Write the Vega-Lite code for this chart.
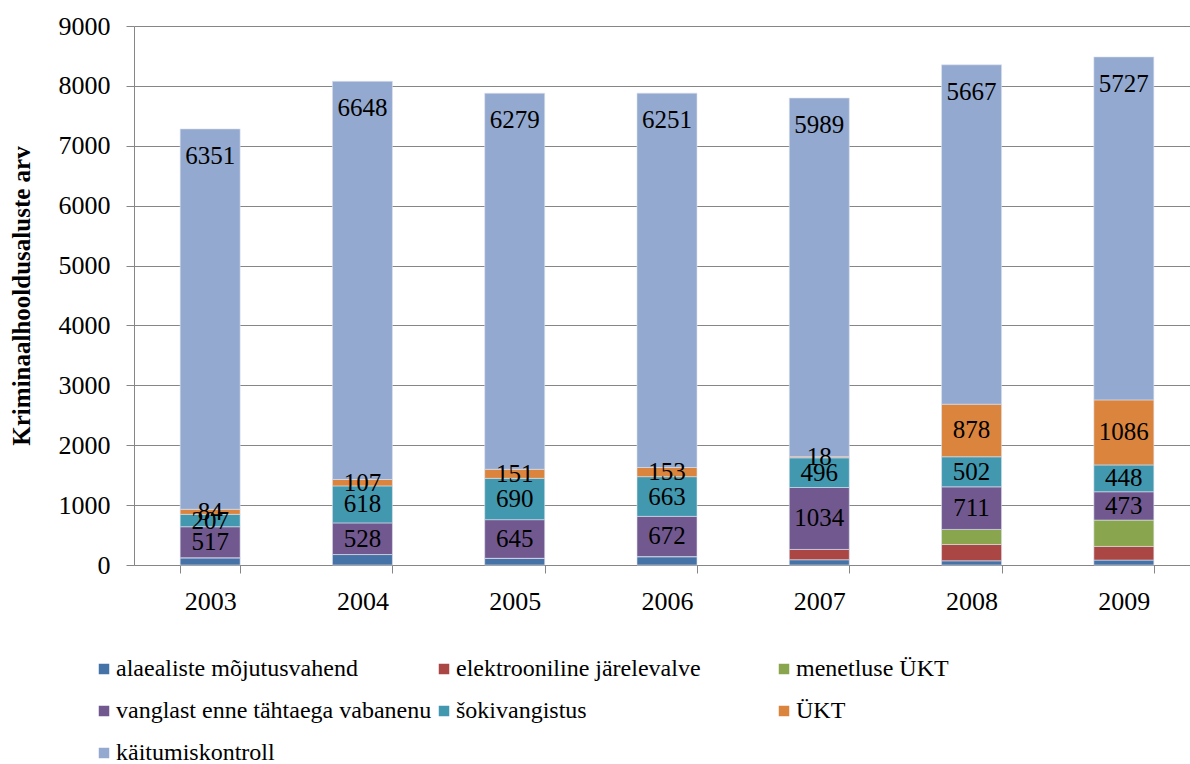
{
  "$schema": "https://vega.github.io/schema/vega-lite/v6.json",
  "autosize": "none",
  "width": 1056,
  "height": 539,
  "padding": {"left": 134, "top": 26, "right": 0, "bottom": 199},
  "background": "white",
  "config": {
    "font": "Liberation Serif",
    "view": {"stroke": null}
  },
  "data": {
    "values": [
      {"year": "2003", "series": "alaealiste mõjutusvahend", "k": 1, "value": 122},
      {"year": "2003", "series": "elektrooniline järelevalve", "k": 2, "value": 0},
      {"year": "2003", "series": "menetluse ÜKT", "k": 3, "value": 0},
      {"year": "2003", "series": "vanglast enne tähtaega vabanenu", "k": 4, "value": 517},
      {"year": "2003", "series": "šokivangistus", "k": 5, "value": 207},
      {"year": "2003", "series": "ÜKT", "k": 6, "value": 84},
      {"year": "2003", "series": "käitumiskontroll", "k": 7, "value": 6351},
      {"year": "2004", "series": "alaealiste mõjutusvahend", "k": 1, "value": 175},
      {"year": "2004", "series": "elektrooniline järelevalve", "k": 2, "value": 0},
      {"year": "2004", "series": "menetluse ÜKT", "k": 3, "value": 0},
      {"year": "2004", "series": "vanglast enne tähtaega vabanenu", "k": 4, "value": 528},
      {"year": "2004", "series": "šokivangistus", "k": 5, "value": 618},
      {"year": "2004", "series": "ÜKT", "k": 6, "value": 107},
      {"year": "2004", "series": "käitumiskontroll", "k": 7, "value": 6648},
      {"year": "2005", "series": "alaealiste mõjutusvahend", "k": 1, "value": 112},
      {"year": "2005", "series": "elektrooniline järelevalve", "k": 2, "value": 0},
      {"year": "2005", "series": "menetluse ÜKT", "k": 3, "value": 0},
      {"year": "2005", "series": "vanglast enne tähtaega vabanenu", "k": 4, "value": 645},
      {"year": "2005", "series": "šokivangistus", "k": 5, "value": 690},
      {"year": "2005", "series": "ÜKT", "k": 6, "value": 151},
      {"year": "2005", "series": "käitumiskontroll", "k": 7, "value": 6279},
      {"year": "2006", "series": "alaealiste mõjutusvahend", "k": 1, "value": 140},
      {"year": "2006", "series": "elektrooniline järelevalve", "k": 2, "value": 0},
      {"year": "2006", "series": "menetluse ÜKT", "k": 3, "value": 0},
      {"year": "2006", "series": "vanglast enne tähtaega vabanenu", "k": 4, "value": 672},
      {"year": "2006", "series": "šokivangistus", "k": 5, "value": 663},
      {"year": "2006", "series": "ÜKT", "k": 6, "value": 153},
      {"year": "2006", "series": "käitumiskontroll", "k": 7, "value": 6251},
      {"year": "2007", "series": "alaealiste mõjutusvahend", "k": 1, "value": 88},
      {"year": "2007", "series": "elektrooniline järelevalve", "k": 2, "value": 172},
      {"year": "2007", "series": "menetluse ÜKT", "k": 3, "value": 0},
      {"year": "2007", "series": "vanglast enne tähtaega vabanenu", "k": 4, "value": 1034},
      {"year": "2007", "series": "šokivangistus", "k": 5, "value": 496},
      {"year": "2007", "series": "ÜKT", "k": 6, "value": 18},
      {"year": "2007", "series": "käitumiskontroll", "k": 7, "value": 5989},
      {"year": "2008", "series": "alaealiste mõjutusvahend", "k": 1, "value": 70},
      {"year": "2008", "series": "elektrooniline järelevalve", "k": 2, "value": 272},
      {"year": "2008", "series": "menetluse ÜKT", "k": 3, "value": 252},
      {"year": "2008", "series": "vanglast enne tähtaega vabanenu", "k": 4, "value": 711},
      {"year": "2008", "series": "šokivangistus", "k": 5, "value": 502},
      {"year": "2008", "series": "ÜKT", "k": 6, "value": 878},
      {"year": "2008", "series": "käitumiskontroll", "k": 7, "value": 5667},
      {"year": "2009", "series": "alaealiste mõjutusvahend", "k": 1, "value": 82},
      {"year": "2009", "series": "elektrooniline järelevalve", "k": 2, "value": 228},
      {"year": "2009", "series": "menetluse ÜKT", "k": 3, "value": 440},
      {"year": "2009", "series": "vanglast enne tähtaega vabanenu", "k": 4, "value": 473},
      {"year": "2009", "series": "šokivangistus", "k": 5, "value": 448},
      {"year": "2009", "series": "ÜKT", "k": 6, "value": 1086},
      {"year": "2009", "series": "käitumiskontroll", "k": 7, "value": 5727}
    ]
  },
  "encoding": {
    "x": {
      "field": "year",
      "type": "nominal",
      "scale": {"paddingInner": 0.606, "paddingOuter": 0.303, "range": [0, 1066]},
      "axis": {
        "title": null,
        "labelAngle": 0,
        "labelFont": "Liberation Serif",
        "labelFontSize": 26,
        "labelColor": "black",
        "labelPadding": 15,
        "tickBand": "extent",
        "tickSize": 8,
        "tickColor": "#868686",
        "domainColor": "#868686",
        "grid": false
      }
    },
    "y": {
      "field": "value",
      "type": "quantitative",
      "stack": "zero",
      "scale": {"domain": [0, 9000], "nice": false},
      "axis": {
        "title": "Kriminaalhooldusaluste arv",
        "titleFont": "Liberation Serif",
        "titleFontSize": 25,
        "titleFontWeight": "bold",
        "titleColor": "black",
        "titlePadding": 24,
        "values": [0, 1000, 2000, 3000, 4000, 5000, 6000, 7000, 8000, 9000],
        "format": "d",
        "labelFont": "Liberation Serif",
        "labelFontSize": 26,
        "labelColor": "black",
        "labelPadding": 16,
        "tickSize": 8,
        "tickColor": "#868686",
        "domainColor": "#868686",
        "gridColor": "#868686",
        "gridWidth": 1
      }
    },
    "order": {"field": "k", "type": "quantitative", "sort": "ascending"}
  },
  "layer": [
    {
      "mark": {"type": "bar", "stroke": "#dde3ee", "strokeWidth": 0.6},
      "encoding": {
        "color": {
          "field": "series",
          "type": "nominal",
          "scale": {
            "domain": ["alaealiste mõjutusvahend", "elektrooniline järelevalve", "menetluse ÜKT", "vanglast enne tähtaega vabanenu", "šokivangistus", "ÜKT", "käitumiskontroll"],
            "range": ["#4572A7", "#AA4643", "#89A54E", "#71588F", "#4198AF", "#DB843D", "#93A9CF"]
          },
          "legend": {
            "title": null,
            "orient": "none",
            "legendX": -42,
            "legendY": 631,
            "direction": "horizontal",
            "columns": 3,
            "gridAlign": "all",
            "columnPadding": 0,
            "rowPadding": 18,
            "symbolType": "square",
            "symbolSize": 110,
            "symbolStrokeWidth": 0,
            "symbolOffset": 0,
            "labelOffset": 0,
            "labelFont": "Liberation Serif",
            "labelFontSize": 24,
            "labelColor": "black",
            "labelLimit": 400
          }
        }
      }
    },
    {
      "mark": {"type": "text", "font": "Liberation Serif", "fontSize": 25, "color": "black", "baseline": "middle"},
      "encoding": {
        "y": {"field": "value", "type": "quantitative", "stack": "zero", "bandPosition": 0.5},
        "text": {
          "condition": {"test": "datum.k >= 4 && datum.k <= 6 && datum.value > 0", "field": "value", "type": "quantitative"},
          "value": ""
        }
      }
    },
    {
      "mark": {"type": "text", "font": "Liberation Serif", "fontSize": 25, "color": "black", "baseline": "middle", "dy": 27},
      "encoding": {
        "y": {"field": "value", "type": "quantitative", "stack": "zero", "bandPosition": 1},
        "text": {
          "condition": {"test": "datum.k == 7", "field": "value", "type": "quantitative"},
          "value": ""
        }
      }
    }
  ]
}
